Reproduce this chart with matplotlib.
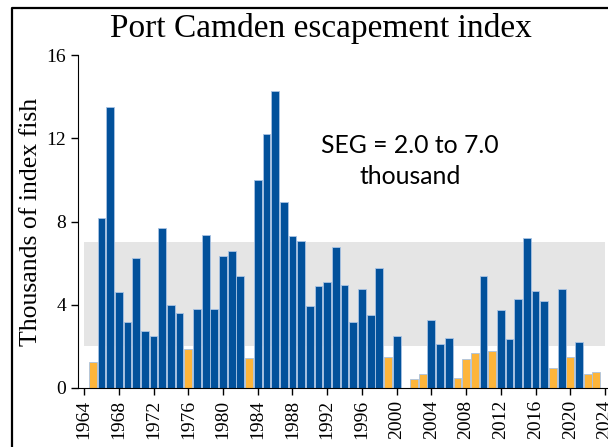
import matplotlib.pyplot as plt
from matplotlib.lines import Line2D
import numpy as np

# escapement index, thousands of fish (2001 not surveyed)
years = list(range(1965, 2024))
counts = [1.24, 8.16, 13.49, 4.59, 3.18, 6.27, 2.74, 2.50, 7.68, 4.01,
          3.58, 1.88, 3.80, 7.33, 3.80, 6.32, 6.58, 5.36, 1.43, 9.97,
          12.19, 14.25, 8.92, 7.31, 7.04, 3.95, 4.89, 5.08, 6.78, 4.94,
          3.19, 4.75, 3.50, 5.77, 1.51, 2.50, np.nan, 0.43, 0.69, 3.29,
          2.10, 2.42, 0.50, 1.40, 1.68, 5.39, 1.77, 3.75, 2.37, 4.30,
          7.23, 4.68, 4.17, 0.98, 4.78, 1.49, 2.20, 0.69, 0.79]
seg_low, seg_high = 2.0, 7.0
xticks = list(range(1964, 2025, 4))
yticks = [0, 4, 8, 12, 16]

blue = '#02519b'
orange = '#fdb53b'

fig = plt.figure(figsize=(6.08, 4.47), dpi=100)
ax = fig.add_axes([78 / 608, 59 / 447, 530.5 / 608, 333 / 447])

ax.fill_between([1964, 2024], seg_low, seg_high, color='#e5e5e5', lw=0, zorder=0)

yrs = np.array(years)
vals = np.array(counts)
ok = ~np.isnan(vals)
cols = [blue if v >= seg_low else orange for v in vals[ok]]
ax.bar(yrs[ok], vals[ok], width=0.9, color=cols, edgecolor='#a9c3e3',
       linewidth=0.6, zorder=2)

ax.set_xlim(1963.3, 2024.4)
ax.set_ylim(0, 16)
ax.set_xticks(xticks)
ax.set_xticklabels([str(t) for t in xticks], rotation=90)
ax.set_yticks(yticks)
for s in ['top', 'right']:
    ax.spines[s].set_visible(False)
ax.tick_params(labelsize=14, direction='out', length=5, width=1)
for lab in ax.get_xticklabels() + ax.get_yticklabels():
    lab.set_fontfamily('Liberation Serif')

ax.set_ylabel('Thousands of index fish', fontsize=18.5, family='Liberation Serif',
              labelpad=3)
fig.text(321 / 608, 1 - 29 / 447, 'Port Camden escapement index', fontsize=24,
         family='Liberation Serif', ha='center', va='center')

ax.text(2001.55, 10.9, 'SEG = 2.0 to 7.0\nthousand', fontsize=17.8,
        family='Lato', ha='center', va='center', linespacing=1.45)

# outer frame
fx = 12 / 608
fy = 1 - 8 / 447
fig.add_artist(Line2D([fx, fx, 1.05], [-0.05, fy, fy], color='black', lw=1.6,
                      transform=fig.transFigure))

fig.savefig('out.png', dpi=100)
